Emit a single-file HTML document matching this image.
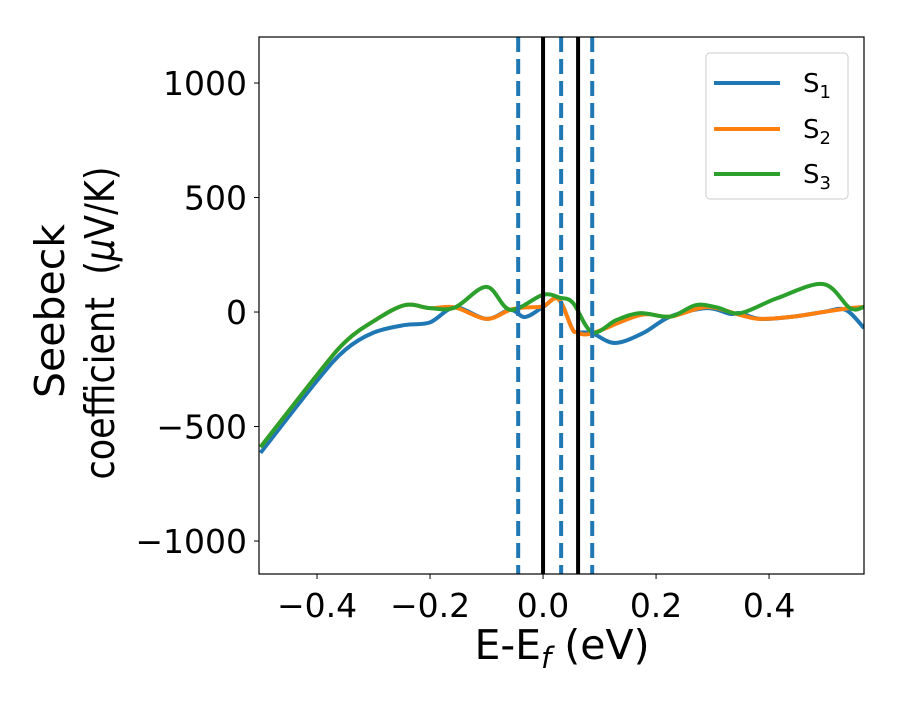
<!DOCTYPE html>
<html><head><meta charset="utf-8"><style>
body{margin:0;background:#fff;}
svg{font-family:"DejaVu Sans","Liberation Sans",sans-serif;}
</style></head><body>
<svg width="900" height="700" viewBox="0 0 900 700">
<g id="plot"></g>
</svg>
<script>
const eGreen=[-0.5,-0.4,-0.35,-0.3,-0.245,-0.2,-0.156,-0.1,-0.058,0,0.03,0.053,0.087,0.13,0.172,0.225,0.27,0.308,0.349,0.414,0.496,0.543,0.568];
const vGreen=[-590,-275,-130,-40,30,17,20,110,10,75,62,40,-88,-35,-5,-20,30,20,-5,60,122,17,22];
const eOrange=[-0.5,-0.4,-0.35,-0.3,-0.245,-0.2,-0.156,-0.1,-0.058,-0.03,0,0.027,0.051,0.06,0.087,0.172,0.225,0.29,0.349,0.384,0.443,0.496,0.543,0.568];
const vOrange=[-590,-275,-130,-40,30,17,20,-30,10,20,25,57,-70,-88,-93,-13,-20,22,-13,-30,-20,0,17,22];
const eBlue=[-0.5,-0.4,-0.35,-0.3,-0.245,-0.2,-0.156,-0.1,-0.058,-0.032,0,0.027,0.051,0.06,0.087,0.127,0.177,0.225,0.29,0.331,0.349,0.384,0.443,0.496,0.535,0.568];
const vBlue=[-615,-300,-165,-90,-57,-45,20,-30,10,-22,22,57,-70,-88,-93,-135,-92,-20,17,-8,-5,-30,-20,0,10,-70];
const xTicks=[-0.4,-0.2,0.0,0.2,0.4];
const xTickLabels=["\u22120.4","\u22120.2","0.0","0.2","0.4"];
const yTicks=[1000,500,0,-500,-1000];
const yTickLabels=["1000","500","0","\u2212500","\u22121000"];
const dashedLines=[-0.044,0.032,0.087];
const solidLines=[0,0.062];
const X0=259,X1=864,Y0=37,Y1=574;
const xmin=-0.5027,xmax=0.568,ymin=-1144,ymax=1201;
const xs=e=>X0+(e-xmin)/(xmax-xmin)*(X1-X0);
const ys=v=>Y1-(v-ymin)/(ymax-ymin)*(Y1-Y0);
const NS="http://www.w3.org/2000/svg";
const g=document.getElementById('plot');
function mk(t,a,p){const el=document.createElementNS(NS,t);for(const k in a)el.setAttribute(k,a[k]);(p||g).appendChild(el);return el;}
const clip=mk('clipPath',{id:'cp'});mk('rect',{x:X0,y:Y0,width:X1-X0,height:Y1-Y0},clip);
function path(E,V){const P=E.map((e,i)=>[xs(e),ys(V[i])]);let d=`M${P[0][0]},${P[0][1]}`;
for(let i=0;i<P.length-1;i++){const p0=P[Math.max(i-1,0)],p1=P[i],p2=P[i+1],p3=P[Math.min(i+2,P.length-1)];
d+=` C${p1[0]+(p2[0]-p0[0])/6},${p1[1]+(p2[1]-p0[1])/6} ${p2[0]-(p3[0]-p1[0])/6},${p2[1]-(p3[1]-p1[1])/6} ${p2[0]},${p2[1]}`;}return d;}
const series=[[eBlue,vBlue,'#1f77b4','series-s1'],[eOrange,vOrange,'#ff7f0e','series-s2'],[eGreen,vGreen,'#2ca02c','series-s3']];
series.forEach(s=>{const el=mk('path',{d:path(s[0],s[1]),fill:'none',stroke:s[2],'stroke-width':4,'clip-path':'url(#cp)'});

});
dashedLines.forEach(e=>{const el=mk('line',{x1:xs(e),x2:xs(e),y1:Y0,y2:Y1,stroke:'#1f77b4','stroke-width':4,'stroke-dasharray':'15,7'});

});
solidLines.forEach(e=>{const el=mk('line',{x1:xs(e),x2:xs(e),y1:Y0,y2:Y1,stroke:'#000','stroke-width':4});

});
const fr=mk('rect',{x:X0,y:Y0,width:X1-X0,height:Y1-Y0,fill:'none',stroke:'#000','stroke-width':1.2});


xTicks.forEach((t,i)=>{const x=xs(t);mk('line',{x1:x,x2:x,y1:Y1,y2:Y1+5,stroke:'#000'});
const tx=mk('text',{x:x,y:Y1+43,'text-anchor':'middle','font-size':33});tx.textContent=xTickLabels[i];

});
yTicks.forEach((t,i)=>{const y=ys(t);mk('line',{x1:X0-5,x2:X0,y1:y,y2:y,stroke:'#000'});
const tx=mk('text',{x:X0-12,y:y+12,'text-anchor':'end','font-size':33});tx.textContent=yTickLabels[i];

});
</script>
<svg style="position:absolute;left:0;top:0" width="900" height="700">
<text x="562" y="659" text-anchor="middle" font-size="41" font-family="DejaVu Sans,sans-serif">E-E<tspan font-style="italic" font-size="29" dy="9">f</tspan><tspan dy="-9"> (eV)</tspan></text>
<g font-size="41" font-family="DejaVu Sans,sans-serif" text-anchor="middle">
<text transform="translate(64,311) rotate(-90)">Seebeck</text>
<text transform="translate(114,323) rotate(-90)" textLength="313" lengthAdjust="spacingAndGlyphs">coefficient&#160;&#160;(<tspan font-style="italic">μ</tspan>V/K)</text>
</g>
<g font-family="DejaVu Sans,sans-serif" font-size="26">
<rect x="706" y="53" width="142" height="146" rx="4" fill="#fff" stroke="#ccc"/>
<g><line x1="714" x2="780" y1="83" y2="83" stroke="#1f77b4" stroke-width="4"/><text x="803" y="92">S<tspan font-size="18" dy="6">1</tspan></text></g>
<g><line x1="714" x2="780" y1="129" y2="129" stroke="#ff7f0e" stroke-width="4"/><text x="803" y="138">S<tspan font-size="18" dy="6">2</tspan></text></g>
<g><line x1="714" x2="780" y1="174" y2="174" stroke="#2ca02c" stroke-width="4"/><text x="803" y="183">S<tspan font-size="18" dy="6">3</tspan></text></g>
</g>
</svg>
</body></html>
